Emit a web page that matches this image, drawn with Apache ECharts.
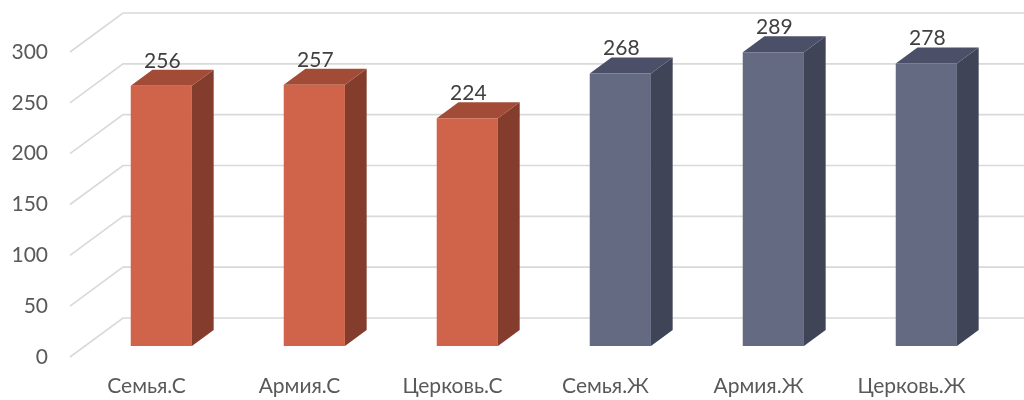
<!DOCTYPE html>
<html>
<head>
<meta charset="utf-8">
<script src="https://cdn.jsdelivr.net/npm/echarts@6/dist/echarts.min.js"></script>
<style>html,body{margin:0;padding:0;background:#fff;}#chart{width:1024px;height:400px;}</style>
</head>
<body>
<div id="chart"></div>
<script>
var categories = ['Семья.С', 'Армия.С', 'Церковь.С', 'Семья.Ж', 'Армия.Ж', 'Церковь.Ж'];
var values = [256, 257, 224, 268, 289, 278];
var groups = ['С', 'С', 'С', 'Ж', 'Ж', 'Ж'];
var yTicks = [0, 50, 100, 150, 200, 250, 300];

var palette = {
  'С': { front: '#D0644A', side: '#843D2D', top: '#A24B37' },
  'Ж': { front: '#636A82', side: '#404457', top: '#4B5068' }
};
var DX = 53, DY = -39;          // depth vector of the 3D floor
var D0 = 0.28, D1 = 0.69;       // bar depth span (fraction of floor depth)
var BAR_W = 0.4;                // bar width as fraction of category band
var FONT = 'Lato, "Open Sans", sans-serif';

var chart = echarts.init(document.getElementById('chart'), null, { renderer: 'canvas' });

chart.setOption({
  animation: false,
  grid: { left: 70, right: 36, top: 52, bottom: 43, containLabel: false },
  xAxis: {
    type: 'category',
    data: categories,
    axisLine: { show: false },
    axisTick: { show: false },
    axisLabel: { color: '#595959', fontSize: 21, fontFamily: FONT, margin: 19 }
  },
  yAxis: {
    type: 'value',
    min: 0, max: 300, interval: 50,
    axisLine: { show: false },
    axisTick: { show: false },
    splitLine: { show: false },
    axisLabel: { color: '#595959', fontSize: 21, fontFamily: FONT, margin: 22 }
  },
  series: [
    {
      type: 'custom',
      z: 1,
      silent: true,
      data: yTicks.map(function (v) { return [0, v]; }),
      renderItem: function (params, api) {
        var cs = params.coordSys;
        var y = api.coord([0, api.value(1)])[1];
        var x0 = cs.x;
        return {
          type: 'polyline',
          shape: { points: [[x0, y], [x0 + DX, y + DY], [cs.x + cs.width + DX + 10, y + DY]] },
          style: { stroke: '#D9D9D9', lineWidth: 1.6, fill: null }
        };
      }
    },
    {
      type: 'custom',
      z: 2,
      data: values.map(function (v, i) { return [i, v]; }),
      renderItem: function (params, api) {
        var i = api.value(0);
        var v = api.value(1);
        var base = api.coord([i, 0]);
        var top = api.coord([i, v]);
        var band = api.size([1, 0])[0];
        var w = band * BAR_W;
        var cx = base[0] + D0 * DX;
        var xl = cx - w / 2, xr = cx + w / 2;
        var yb = base[1] + D0 * DY;
        var yt = top[1] + D0 * DY;
        var ddx = (D1 - D0) * DX, ddy = (D1 - D0) * DY;
        var c = palette[groups[i]];
        return {
          type: 'group',
          children: [
            { type: 'polygon', shape: { points: [[xr, yb], [xr + ddx, yb + ddy], [xr + ddx, yt + ddy], [xr, yt]] },
              style: { fill: c.side } },
            { type: 'polygon', shape: { points: [[xl, yt], [xr, yt], [xr + ddx, yt + ddy], [xl + ddx, yt + ddy]] },
              style: { fill: c.top } },
            { type: 'rect', shape: { x: xl, y: yt, width: w, height: yb - yt },
              style: { fill: c.front } },
            { type: 'text', x: cx + 1, y: yt - 25,
              style: { text: String(v), fill: '#404040', font: '21px ' + FONT, align: 'center', verticalAlign: 'middle' } }
          ]
        };
      }
    }
  ]
});
</script>
</body>
</html>
